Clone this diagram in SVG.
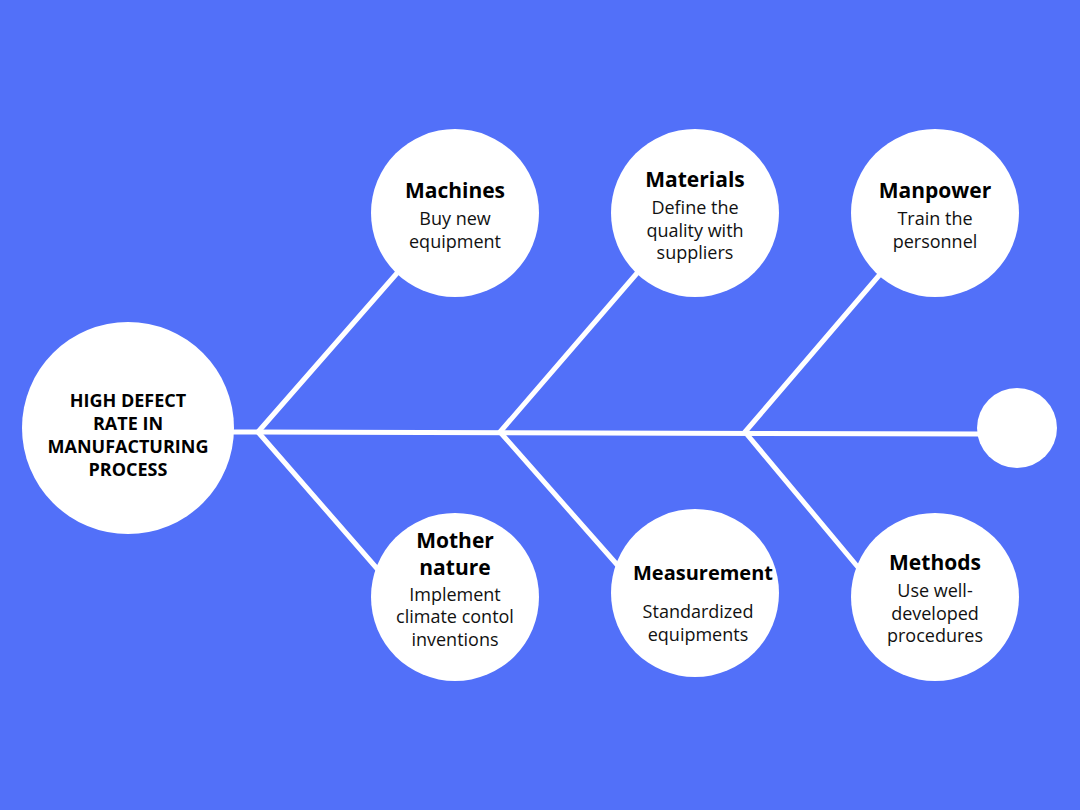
<svg xmlns="http://www.w3.org/2000/svg" width="1080" height="810" viewBox="0 0 1080 810">
<style>
.c{fill:#fff}
.l{stroke:#fff;stroke-width:5;fill:none;stroke-linecap:round}
.t{font-family:"Open Sans","Liberation Sans",sans-serif;font-weight:bold;font-size:21px;fill:#000;text-anchor:middle}
.b{font-family:"Open Sans","Liberation Sans",sans-serif;font-size:18px;fill:#111;text-anchor:middle}
.h{font-family:"Open Sans","Liberation Sans",sans-serif;font-weight:bold;font-size:18px;fill:#000;text-anchor:middle}
</style>
<rect width="1080" height="810" fill="#5270F9"/>
<g id="connectors">
<path class="l" d="M232 432 L985 434"/>
<path class="l" d="M258 432 L398 272 M258 432 L380 572"/>
<path class="l" d="M500 432 L638 272 M500 432 L620 568"/>
<path class="l" d="M745 432 L882 272 M745 432 L862 572"/>
</g>
<g id="problem"><circle class="c" cx="128" cy="428" r="106"/>
<text class="h" x="128" y="407">HIGH DEFECT</text><text class="h" x="128" y="430">RATE IN</text><text class="h" x="128" y="453">MANUFACTURING</text><text class="h" x="128" y="476">PROCESS</text></g>
<g id="end"><circle class="c" cx="1017" cy="428" r="40"/></g>
<g id="machines"><circle class="c" cx="455" cy="213" r="84"/>
<text class="t" x="455" y="198">Machines</text><text class="b" x="455" y="225">Buy new</text><text class="b" x="455" y="248">equipment</text></g>
<g id="materials"><circle class="c" cx="695" cy="213" r="84"/>
<text class="t" x="695" y="187">Materials</text><text class="b" x="695" y="214">Define the</text><text class="b" x="695" y="237">quality with</text><text class="b" x="695" y="259">suppliers</text></g>
<g id="manpower"><circle class="c" cx="935" cy="213" r="84"/>
<text class="t" x="935" y="198">Manpower</text><text class="b" x="935" y="225">Train the</text><text class="b" x="935" y="248">personnel</text></g>
<g id="mother"><circle class="c" cx="455" cy="597" r="84"/>
<text class="t" x="455" y="548">Mother</text><text class="t" x="455" y="575">nature</text><text class="b" x="455" y="601">Implement</text><text class="b" x="455" y="623">climate contol</text><text class="b" x="455" y="646">inventions</text></g>
<g id="measurement"><circle class="c" cx="695" cy="593" r="84"/>
<text class="t" x="703" y="580" style="font-size:20px">Measurement</text><text class="b" x="698" y="618">Standardized</text><text class="b" x="698" y="641">equipments</text></g>
<g id="methods"><circle class="c" cx="935" cy="597" r="84"/>
<text class="t" x="935" y="570">Methods</text><text class="b" x="935" y="597">Use well-</text><text class="b" x="935" y="620">developed</text><text class="b" x="935" y="642">procedures</text></g>
</svg>
